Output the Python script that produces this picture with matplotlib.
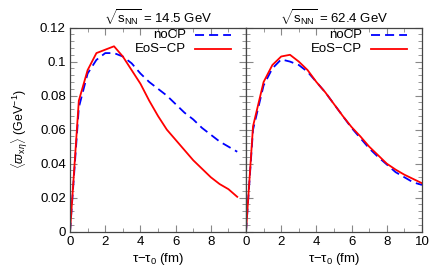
import matplotlib
matplotlib.use("Agg")
import matplotlib.pyplot as plt
from matplotlib.ticker import MultipleLocator

plt.rcParams["font.family"] = ["Liberation Sans", "DejaVu Sans"]
plt.rcParams["mathtext.fontset"] = "custom"
plt.rcParams["mathtext.rm"] = "Liberation Sans"
plt.rcParams["mathtext.it"] = "Liberation Sans:italic"

# tau - tau0 (fm)
tau_14 = [0, 0.5, 1.0, 1.5, 2.0, 2.5, 3.0, 3.5, 4.0, 4.5, 5.0, 5.5, 6.0, 6.5,
          7.0, 7.5, 8.0, 8.5, 9.0, 9.5]
nocp_14 = [0, 0.073, 0.093, 0.101, 0.105, 0.105, 0.103, 0.099, 0.093, 0.088,
           0.084, 0.080, 0.075, 0.070, 0.066, 0.061, 0.057, 0.053, 0.050, 0.047]
eoscp_14 = [0, 0.077, 0.095, 0.105, 0.107, 0.109, 0.103, 0.095, 0.087, 0.077,
            0.068, 0.060, 0.054, 0.048, 0.042, 0.037, 0.032, 0.028, 0.025, 0.0205]

tau_62 = [0, 0.4, 1.0, 1.5, 2.0, 2.5, 3.0, 3.5, 4.0, 4.5, 5.0, 5.5, 6.0, 6.5,
          7.0, 7.5, 8.0, 8.5, 9.0, 9.5, 10.0]
nocp_62 = [0, 0.060, 0.086, 0.096, 0.1013, 0.100, 0.098, 0.094, 0.088, 0.082,
           0.075, 0.068, 0.061, 0.055, 0.049, 0.044, 0.0395, 0.035, 0.032, 0.029, 0.0275]
eoscp_62 = [0, 0.062, 0.088, 0.098, 0.103, 0.104, 0.100, 0.095, 0.088, 0.082,
            0.075, 0.068, 0.0615, 0.056, 0.050, 0.045, 0.040, 0.0365, 0.0335, 0.031, 0.0285]

titles = [r"$\sqrt{\mathrm{s}_{\mathrm{NN}}}$ = 14.5 GeV",
          r"$\sqrt{\mathrm{s}_{\mathrm{NN}}}$ = 62.4 GeV"]

FS = 9.5
BLUE = "#0000ff"
RED = "#ff0000"

fig = plt.figure(figsize=(4.36, 2.73), dpi=100)
ax1 = fig.add_axes([0.1606, 0.1513, 0.4037, 0.7477])
ax2 = fig.add_axes([0.5642, 0.1513, 0.4037, 0.7477])

panels = [(ax1, tau_14, nocp_14, eoscp_14, [0, 2, 4, 6, 8]),
          (ax2, tau_62, nocp_62, eoscp_62, [0, 2, 4, 6, 8, 10])]

for i, (ax, t, nocp, eos, xt) in enumerate(panels):
    ax.plot(t, nocp, color=BLUE, lw=1.3, dashes=(5, 2.8))
    ax.plot(t, eos, color=RED, lw=1.3)
    ax.set_xlim(0, 10)
    ax.set_ylim(0, 0.12)
    ax.set_xticks(xt)
    ax.xaxis.set_minor_locator(MultipleLocator(1))
    ax.set_yticks([0, 0.02, 0.04, 0.06, 0.08, 0.1, 0.12])
    ax.yaxis.set_minor_locator(MultipleLocator(0.004))
    ax.tick_params(which="both", direction="in", top=True, right=True,
                   labelsize=FS, color="#888888", pad=3)
    ax.tick_params(which="major", length=5, width=0.8)
    ax.tick_params(which="minor", length=3, width=0.6)
    for s in ax.spines.values():
        s.set_color("#444444")
        s.set_linewidth(0.9)
    ax.set_xlabel("τ−τ$_0$ (fm)", fontsize=FS, labelpad=2)
    ax.set_title(titles[i], fontsize=FS, pad=3)

    # legend, gnuplot style: text right-aligned, sample on the right
    ax.text(0.66, 0.963, "noCP", transform=ax.transAxes, ha="right",
            va="center", fontsize=FS)
    ax.plot([0.71, 0.915], [0.963, 0.963], transform=ax.transAxes,
            color=BLUE, lw=1.3, dashes=(5, 2.8))
    ax.text(0.66, 0.895, "EoS−CP", transform=ax.transAxes, ha="right",
            va="center", fontsize=FS)
    ax.plot([0.71, 0.915], [0.895, 0.895], transform=ax.transAxes,
            color=RED, lw=1.3)

ax1.set_yticklabels(["0", "0.02", "0.04", "0.06", "0.08", "0.1", "0.12"])
ax2.set_yticklabels([])
ax1.set_ylabel(r"$\langle\varpi_{\mathrm{x}\eta}\rangle$ (GeV$^{-1}$)",
               fontsize=FS - 0.5, labelpad=7)

fig.savefig("out.png", dpi=100)
